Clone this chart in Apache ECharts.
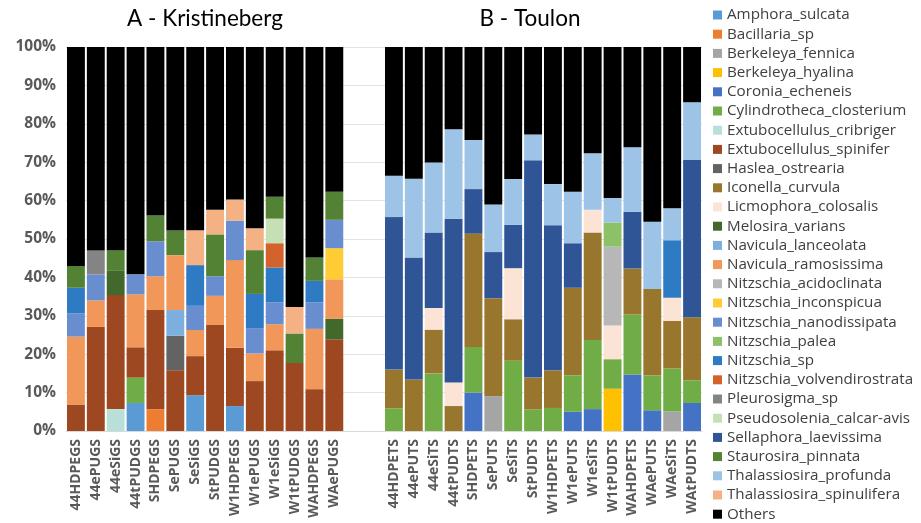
<!DOCTYPE html>
<html><head><meta charset="utf-8">
<script src="https://cdn.jsdelivr.net/npm/echarts@6/dist/echarts.min.js"></script>
<style>html,body{margin:0;padding:0;background:#fff}#c{width:921px;height:523px}</style>
</head><body><div id="c"></div>
<script>
// Categories
const kristCats = ['44HDPEGS','44ePUGS','44eSiGS','44tPUDGS','SHDPEGS','SePUGS','SeSiGS','StPUDGS','W1HDPEGS','W1ePUGS','W1eSiGS','W1tPUDGS','WAHDPEGS','WAePUGS'];
const toulonCats = ['44HDPETS','44ePUTS','44eSiTS','44tPUDTS','SHDPETS','SePUTS','SeSiTS','StPUDTS','W1HDPETS','W1ePUTS','W1eSiTS','W1tPUDTS','WAHDPETS','WAePUTS','WAeSiTS','WAtPUDTS'];
const yTicks = [0,10,20,30,40,50,60,70,80,90,100];

// Values (%): first 14 = Kristineberg, next 16 = Toulon
const Amphora_sulcata = [0,0,0,7.3,0,0,9.3,0,6.5,0,0,0,0,0, 0,0,0,0,0,0,0,0,0,0,0,0,0,0,0,0];
const Bacillaria_sp = [0,0,0,0,5.7,0,0,0,0,0,0,0,0,0, 0,0,0,0,0,0,0,0,0,0,0,0,0,0,0,0];
const Berkeleya_fennica = [0,0,0,0,0,0,0,0,0,0,0,0,0,0, 0,0,0,0,0,9.1,0,0,0,0,0,0,0,0,5.1,0];
const Berkeleya_hyalina = [0,0,0,0,0,0,0,0,0,0,0,0,0,0, 0,0,0,0,0,0,0,0,0,0,0,11.0,0,0,0,0];
const Coronia_echeneis = [0,0,0,0,0,0,0,0,0,0,0,0,0,0, 0,0,0,0,10.0,0,0,0,0,5.0,5.7,0,14.7,5.4,0,7.3];
const Cylindrotheca_closterium = [0,0,0,6.6,0,0,0,0,0,0,0,0,0,0, 5.9,0,15.0,0,11.9,0,18.3,5.6,6.0,9.5,18.0,7.7,15.6,9.1,11.2,5.9];
const Extubocellulus_cribriger = [0,0,5.7,0,0,0,0,0,0,0,0,0,0,0, 0,0,0,0,0,0,0,0,0,0,0,0,0,0,0,0];
const Extubocellulus_spinifer = [6.9,27.1,29.7,7.9,25.8,15.8,10.2,27.6,15.2,13.0,21.0,17.7,10.9,23.9, 0,0,0,0,0,0,0,0,0,0,0,0,0,0,0,0];
const Haslea_ostrearia = [0,0,0,0,0,9.0,0,0,0,0,0,0,0,0, 0,0,0,0,0,0,0,0,0,0,0,0,0,0,0,0];
const Iconella_curvula = [0,0,0,0,0,0,0,0,0,0,0,0,0,0, 10.1,13.4,11.4,6.5,29.5,25.5,10.8,8.3,9.8,22.8,28.0,0,12.0,22.5,12.4,16.4];
const Licmophora_colosalis = [0,0,0,0,0,0,0,0,0,0,0,0,0,0, 0,0,5.6,6.1,0,0,13.3,0,0,0,5.9,8.8,0,0,6.0,0];
const Melosira_varians = [0,0,6.3,0,0,0,0,0,0,0,0,0,0,5.3, 0,0,0,0,0,0,0,0,0,0,0,0,0,0,0,0];
const Navicula_lanceolata = [0,0,0,0,0,6.7,0,0,0,0,0,0,0,0, 0,0,0,0,0,0,0,0,0,0,0,0,0,0,0,0];
const Navicula_ramosissima = [17.7,6.9,0,13.8,8.8,14.3,6.8,7.6,22.8,7.2,6.8,0,15.7,10.3, 0,0,0,0,0,0,0,0,0,0,0,0,0,0,0,0];
const Nitzschia_acidoclinata = [0,0,0,0,0,0,0,0,0,0,0,0,0,0, 0,0,0,0,0,0,0,0,0,0,0,20.5,0,0,0,0];
const Nitzschia_inconspicua = [0,0,0,0,0,0,0,0,0,0,0,0,0,8.1, 0,0,0,0,0,0,0,0,0,0,0,0,0,0,0,0];
const Nitzschia_nanodissipata = [6.0,6.8,0,5.2,9.1,0,6.3,5.1,10.3,6.6,5.7,0,6.9,7.4, 0,0,0,0,0,0,0,0,0,0,0,0,0,0,0,0];
const Nitzschia_palea = [0,0,0,0,0,0,0,0,0,0,0,0,0,0, 0,0,0,0,0,0,0,0,0,0,0,6.3,0,0,0,0];
const Nitzschia_sp = [6.7,0,0,0,0,0,10.6,0,0,8.9,9.1,0,5.6,0, 0,0,0,0,0,0,0,0,0,0,0,0,0,0,15.0,0];
const Nitzschia_volvendirostrata = [0,0,0,0,0,0,0,0,0,0,6.3,0,0,0, 0,0,0,0,0,0,0,0,0,0,0,0,0,0,0,0];
const Pleurosigma_sp = [0,6.2,0,0,0,0,0,0,0,0,0,0,0,0, 0,0,0,0,0,0,0,0,0,0,0,0,0,0,0,0];
const Pseudosolenia_calcar_avis = [0,0,0,0,0,0,0,0,0,0,6.4,0,0,0, 0,0,0,0,0,0,0,0,0,0,0,0,0,0,0,0];
const Sellaphora_laevissima = [0,0,0,0,0,0,0,0,0,0,0,0,0,0, 39.7,31.8,19.7,42.7,11.6,12.0,11.3,56.6,37.8,11.6,0,0,14.8,0,0,41.0];
const Staurosira_pinnata = [5.7,0,5.4,0,6.7,6.4,0,10.9,0,11.4,5.7,7.7,6.1,7.3, 0,0,0,0,0,0,0,0,0,0,0,0,0,0,0,0];
const Thalassiosira_profunda = [0,0,0,0,0,0,0,0,0,0,0,0,0,0, 10.8,20.5,18.2,23.3,12.8,12.4,11.9,6.7,10.7,13.4,14.7,6.4,16.8,17.5,8.3,15.0];
const Thalassiosira_spinulifera = [0,0,0,0,0,0,9.1,6.4,5.5,5.7,0,6.9,0,0, 0,0,0,0,0,0,0,0,0,0,0,0,0,0,0,0];
const Others = [57.0,53.0,52.9,59.2,43.9,47.8,47.7,42.4,39.7,47.2,39.0,67.7,54.8,37.7, 33.5,34.3,30.1,21.4,24.2,41.0,34.4,22.8,35.7,37.7,27.7,39.3,26.1,45.5,42.0,14.4];

const seriesDefs = [
  ['Amphora_sulcata', Amphora_sulcata, '#5B9BD5'],
  ['Bacillaria_sp', Bacillaria_sp, '#ED7D31'],
  ['Berkeleya_fennica', Berkeleya_fennica, '#A5A5A5'],
  ['Berkeleya_hyalina', Berkeleya_hyalina, '#FFC000'],
  ['Coronia_echeneis', Coronia_echeneis, '#4472C4'],
  ['Cylindrotheca_closterium', Cylindrotheca_closterium, '#70AD47'],
  ['Extubocellulus_cribriger', Extubocellulus_cribriger, '#B8DFD8'],
  ['Extubocellulus_spinifer', Extubocellulus_spinifer, '#9E4822'],
  ['Haslea_ostrearia', Haslea_ostrearia, '#636363'],
  ['Iconella_curvula', Iconella_curvula, '#98762E'],
  ['Licmophora_colosalis', Licmophora_colosalis, '#FBE3D6'],
  ['Melosira_varians', Melosira_varians, '#43682B'],
  ['Navicula_lanceolata', Navicula_lanceolata, '#7CAFDD'],
  ['Navicula_ramosissima', Navicula_ramosissima, '#F1975A'],
  ['Nitzschia_acidoclinata', Nitzschia_acidoclinata, '#B7B7B7'],
  ['Nitzschia_inconspicua', Nitzschia_inconspicua, '#FFCD33'],
  ['Nitzschia_nanodissipata', Nitzschia_nanodissipata, '#698ED0'],
  ['Nitzschia_palea', Nitzschia_palea, '#8CC168'],
  ['Nitzschia_sp', Nitzschia_sp, '#2E7BC4'],
  ['Nitzschia_volvendirostrata', Nitzschia_volvendirostrata, '#D4622B'],
  ['Pleurosigma_sp', Pleurosigma_sp, '#848484'],
  ['Pseudosolenia_calcar-avis', Pseudosolenia_calcar_avis, '#C5E0B4'],
  ['Sellaphora_laevissima', Sellaphora_laevissima, '#2F5597'],
  ['Staurosira_pinnata', Staurosira_pinnata, '#548235'],
  ['Thalassiosira_profunda', Thalassiosira_profunda, '#9DC3E6'],
  ['Thalassiosira_spinulifera', Thalassiosira_spinulifera, '#F4B183'],
  ['Others', Others, '#000000']
];

const nK = kristCats.length;
const categories = [...kristCats, '', '', ...toulonCats];
function spread(arr) {
  return [...arr.slice(0, nK), null, null, ...arr.slice(nK)];
}

const series = seriesDefs.map(([name, vals, color]) => ({
  name, type: 'bar', stack: 'total', data: spread(vals),
  barCategoryGap: '10%',
  itemStyle: { color },
  emphasis: { disabled: true }
}));

const chart = echarts.init(document.getElementById('c'), null, { renderer: 'canvas' });
chart.setOption({
  animation: false,
  backgroundColor: '#ffffff',
  title: [
    { text: 'A - Kristineberg', left: 205, top: 7, textAlign: 'center', padding: 0,
      textStyle: { fontFamily: 'Lato', fontWeight: 'normal', fontSize: 22.5, color: '#000' } },
    { text: 'B - Toulon', left: 530, top: 7, textAlign: 'center', padding: 0,
      textStyle: { fontFamily: 'Lato', fontWeight: 'normal', fontSize: 22.5, color: '#000' } }
  ],
  legend: {
    orient: 'vertical', left: 713, top: 7, height: 516, padding: 0,
    itemWidth: 9, itemHeight: 9, itemGap: 3.2,
    icon: 'rect', selectedMode: false,
    data: seriesDefs.map(d => d[0]),
    textStyle: { fontFamily: 'Open Sans', fontSize: 15.2, color: '#404040', lineHeight: 16, padding: 0 }
  },
  grid: { left: 66, right: 219, top: 47, bottom: 92, containLabel: false },
  xAxis: {
    type: 'category', data: categories,
    axisTick: { show: false },
    axisLine: { lineStyle: { color: '#D9D9D9' } },
    axisLabel: { rotate: 90, interval: 0, margin: 8, fontFamily: 'Open Sans', fontWeight: 'bold', fontSize: 14, color: '#595959' }
  },
  yAxis: {
    type: 'value', min: 0, max: 100, interval: 10,
    axisLine: { show: false }, axisTick: { show: false },
    splitLine: { lineStyle: { color: '#E3E3E3' } },
    axisLabel: { formatter: v => yTicks.includes(v) ? v + '%' : '', margin: 10, fontFamily: 'Open Sans', fontWeight: 'bold', fontSize: 15.5, color: '#595959' }
  },
  series
});
</script>
</body></html>
